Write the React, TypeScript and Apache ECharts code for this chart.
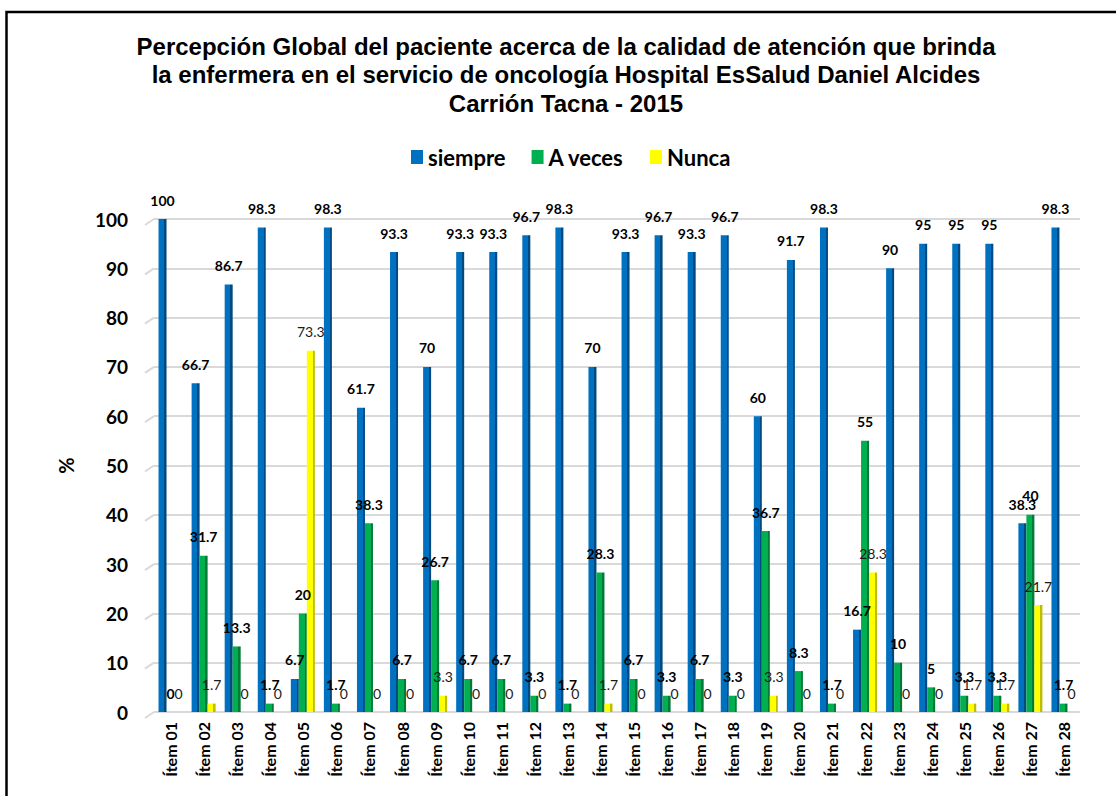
import React, { useEffect, useRef } from "react";
import * as echarts from "echarts";

const titleText =
  "Percepción Global del paciente acerca de la calidad de atención que brinda\nla enfermera en el servicio de oncología Hospital EsSalud Daniel Alcides\nCarrión Tacna - 2015";

const categories = [
  "Ítem 01", "Ítem 02", "Ítem 03", "Ítem 04", "Ítem 05", "Ítem 06", "Ítem 07",
  "Ítem 08", "Ítem 09", "Ítem 10", "Ítem 11", "Ítem 12", "Ítem 13", "Ítem 14",
  "Ítem 15", "Ítem 16", "Ítem 17", "Ítem 18", "Ítem 19", "Ítem 20", "Ítem 21",
  "Ítem 22", "Ítem 23", "Ítem 24", "Ítem 25", "Ítem 26", "Ítem 27", "Ítem 28",
];

const siempre = [
  100, 66.7, 86.7, 98.3, 6.7, 98.3, 61.7, 93.3, 70, 93.3, 93.3, 96.7, 98.3, 70,
  93.3, 96.7, 93.3, 96.7, 60, 91.7, 98.3, 16.7, 90, 95, 95, 95, 38.3, 98.3,
];

const aVeces = [
  0, 31.7, 13.3, 1.7, 20, 1.7, 38.3, 6.7, 26.7, 6.7, 6.7, 3.3, 1.7, 28.3,
  6.7, 3.3, 6.7, 3.3, 36.7, 8.3, 1.7, 55, 10, 5, 3.3, 3.3, 40, 1.7,
];

const nunca = [
  0, 1.7, 0, 0, 73.3, 0, 0, 0, 3.3, 0, 0, 0, 0, 1.7,
  0, 0, 0, 0, 3.3, 0, 0, 28.3, 0, 0, 1.7, 1.7, 21.7, 0,
];

const seriesNames = ["siempre", "A veces", "Nunca"];
const yTicks = { min: 0, max: 100, interval: 10 };
const yTickValues = [0, 10, 20, 30, 40, 50, 60, 70, 80, 90, 100];

const LABEL_FONT = "Lato, 'Open Sans', sans-serif";
const TITLE_FONT = "'Liberation Sans', Arial, sans-serif";

function bar3d(main: string, dark: string) {
  return new echarts.graphic.LinearGradient(0, 0, 1, 0, [
    { offset: 0, color: main },
    { offset: 0.72, color: main },
    { offset: 0.72, color: dark },
    { offset: 1, color: dark },
  ]);
}

export default function App() {
  const ref = useRef<HTMLDivElement>(null);

  useEffect(() => {
    if (!ref.current) return;
    const chart = echarts.init(ref.current, null, { renderer: "svg" });

    const colors = [
      { main: "#0070C0", dark: "#004A80" },
      { main: "#00B050", dark: "#007A36" },
      { main: "#FFFF00", dark: "#BDBD00" },
    ];
    const datasets = [siempre, aVeces, nunca];
    const labelWeights = ["bold", "bold", "normal"];

    const barSeries = seriesNames.map((name, i) => ({
      name,
      type: "bar",
      data: datasets[i],
      barWidth: 8,
      barGap: "0%",
      itemStyle: { color: bar3d(colors[i].main, colors[i].dark) },
      label: {
        show: true,
        position: "top",
        distance: 12,
        fontFamily: LABEL_FONT,
        fontWeight: labelWeights[i],
        fontSize: 14,
        color: i === 2 ? "#1a1a1a" : "#000",
      },
    }));

    // 3D-style wall stubs at the left end of each gridline
    const stubSeries = {
      type: "custom",
      name: "stubs",
      silent: true,
      clip: false,
      data: yTickValues.map((v) => [0, v]),
      renderItem: (params: any, api: any) => {
        const cs = params.coordSys;
        const p = api.coord([0, api.value(1)]);
        return {
          type: "line",
          shape: { x1: cs.x - 9, y1: p[1] + 6, x2: cs.x, y2: p[1] },
          style: { stroke: "#D9D9D9", lineWidth: 2 },
        };
      },
      z: 1,
    };

    chart.setOption({
      animation: false,
      backgroundColor: "#ffffff",
      graphic: [
        {
          type: "rect",
          shape: { x: 6.5, y: 12, width: 1300, height: 1000 },
          style: { fill: "none", stroke: "#000", lineWidth: 2.5 },
          silent: true,
          z: 100,
        },
      ],
      title: {
        text: titleText,
        left: 561,
        textAlign: "center",
        top: 27,
        textStyle: {
          fontFamily: TITLE_FONT,
          fontWeight: "bold",
          fontSize: 24,
          lineHeight: 28.5,
          color: "#000",
        },
      },
      legend: {
        top: 141,
        left: 406,
        itemWidth: 12,
        itemHeight: 14,
        itemGap: 26,
        icon: "rect",
        textStyle: {
          fontFamily: LABEL_FONT,
          fontWeight: "bold",
          fontSize: 22,
          color: "#000",
        },
        data: seriesNames.map((n, i) => ({
          name: n,
          itemStyle: { color: colors[i].main },
        })),
      },
      grid: { left: 154, right: 36, top: 219, bottom: 84 },
      xAxis: {
        type: "category",
        data: categories,
        axisLine: { show: false },
        axisTick: { show: false },
        axisLabel: {
          rotate: 90,
          margin: 10,
          interval: 0,
          fontFamily: LABEL_FONT,
          fontWeight: "bold",
          fontSize: 16,
          color: "#000",
        },
      },
      yAxis: {
        type: "value",
        min: yTicks.min,
        max: yTicks.max,
        interval: yTicks.interval,
        name: "%",
        nameLocation: "middle",
        nameGap: 78,
        nameRotate: 90,
        nameTextStyle: {
          fontFamily: LABEL_FONT,
          fontWeight: "bold",
          fontSize: 20,
          color: "#000",
        },
        axisLine: { show: false },
        axisTick: { show: false },
        axisLabel: {
          margin: 26,
          fontFamily: LABEL_FONT,
          fontWeight: "bold",
          fontSize: 19,
          color: "#000",
        },
        splitLine: { lineStyle: { color: "#D9D9D9", width: 2 } },
      },
      series: [...barSeries, stubSeries],
    });

    return () => chart.dispose();
  }, []);

  return (
    <div
      ref={ref}
      style={{ position: "absolute", left: 0, top: 0, width: 1116, height: 796 }}
    />
  );
}
